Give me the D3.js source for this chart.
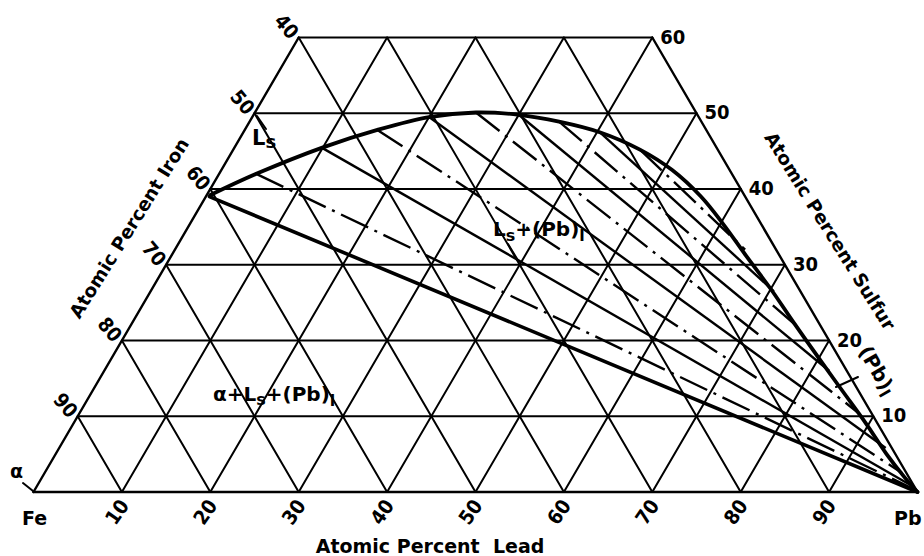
<!DOCTYPE html>
<html>
<head>
<meta charset="utf-8">
<script src="https://cdn.jsdelivr.net/npm/d3@7"></script>
<style>
  html, body { margin: 0; padding: 0; background: #fff; }
  svg text { font-family: "DejaVu Sans", sans-serif; font-weight: bold; fill: #000; }
  svg text.num { font-family: "DejaVu Sans Condensed", "DejaVu Sans", sans-serif; }
</style>
</head>
<body>
<svg id="chart" width="924" height="556"></svg>
<script>
// Fe–Pb–S isothermal section, composition in atomic percent [Pb, S]
const gridLevels = [0, 10, 20, 30, 40, 50, 60];
const leadTicks = ["10", "20", "30", "40", "50", "60", "70", "80", "90"];
const ironTicks = ["40", "50", "60", "70", "80", "90"];
const sulfurTicks = ["60", "50", "40", "30", "20", "10"];

// miscibility gap boundary, from the matte (Ls) side round to the lead-rich side
const gapBoundary = [
  [0.4, 39.2], [4.2, 42.0], [10, 45.5], [15, 47.8], [20, 49.5], [25, 50.1],
  [30, 49.8], [35, 48.9], [40.3, 47.5], [46, 45.2], [51, 42.5], [56, 39.0],
  [60.3, 35.4], [65, 31.2], [70, 26.8], [75, 22.2], [80.3, 17.4],
  [85, 13.2], [89.7, 9.0], [94, 5.0], [97.5, 2.0], [100, 0]
];

// three-phase triangle edge alpha + Ls + (Pb)l
const threePhaseEdge = [[0.4, 39.0], [100, 0]];

// tie lines Ls -> (Pb)l ; style: 1 = solid, 0 = dash-dot
const tieFrom  = [[4.2, 42.0], [10, 45.4], [15, 47.8], [20, 49.5], [25, 50.1], [30, 49.8], [35, 48.9], [40.3, 47.5], [46, 45.2]];
const tieTo    = [[99.6, 0.3], [99.0, 0.8], [97.0, 2.5], [93.5, 5.8], [88.0, 10.5], [82.0, 16.0], [76.0, 21.5], [70.5, 26.5], [64.5, 32.0]];
const tieSolid = [0, 1, 0, 1, 0, 1, 0, 1, 0];

const svg = d3.select("#chart");

// ternary -> screen: horizontal position follows Pb + S/2, vertical follows S
const xs = d3.scaleLinear().domain([0, 100]).range([33.5, 917.5]);
const ys = d3.scaleLinear().domain([0, 60]).range([492, 37.5]);
const P = (pb, s) => [xs(pb + s / 2), ys(s)];
const line = d3.line();

const g = svg.append("g").attr("fill", "none").attr("stroke", "#000").attr("stroke-linecap", "round");

// horizontal grid (constant S), including base and top edge
gridLevels.forEach(s => {
  g.append("path").attr("d", line([P(0, s), P(100 - s, s)])).attr("stroke-width", s === 0 ? 2.6 : 2);
});
// constant-Pb lines (parallel to the Fe–S edge)
for (let pb = 0; pb < 100; pb += 10) {
  const sTop = Math.min(60, 100 - pb);
  g.append("path").attr("d", line([P(pb, 0), P(pb, sTop)])).attr("stroke-width", pb === 0 ? 2.4 : 2);
}
// constant-Fe lines (parallel to the Pb–S edge): Pb + S = 100 - Fe
for (let fe = 0; fe < 100; fe += 10) {
  const sum = 100 - fe;
  const sTop = Math.min(60, sum);
  g.append("path").attr("d", line([P(sum, 0), P(sum - sTop, sTop)])).attr("stroke-width", fe === 0 ? 2.4 : 2);
}

// tie lines
tieFrom.forEach((f, i) => {
  const t = tieTo[i];
  g.append("path")
    .attr("d", line([P(f[0], f[1]), P(t[0], t[1])]))
    .attr("stroke-width", 2.4)
    .attr("stroke-linecap", "butt")
    .attr("stroke-dasharray", tieSolid[i] ? null : "30,7,3,7");
});

// three-phase edge
g.append("path").attr("d", line(threePhaseEdge.map(d => P(d[0], d[1])))).attr("stroke-width", 3.6);

// miscibility gap boundary
g.append("path")
  .attr("d", d3.line().curve(d3.curveCatmullRom.alpha(0.5))(gapBoundary.map(d => P(d[0], d[1]))))
  .attr("stroke-width", 3.8);

// axis numbers
const lab = svg.append("g").attr("font-size", 20);
leadTicks.forEach((t, i) => {
  const [x, y] = P((i + 1) * 10, 0);
  lab.append("text").attr("class", "num").attr("transform", `translate(${x - 5},${y + 20}) rotate(-55)`)
    .attr("text-anchor", "middle").attr("dominant-baseline", "central").text(t);
});
ironTicks.forEach((t, i) => {
  const s = 60 - i * 10;
  const [x, y] = P(0, s);
  lab.append("text").attr("class", "num").attr("transform", `translate(${x - 12},${y - 11}) rotate(50)`)
    .attr("text-anchor", "middle").attr("dominant-baseline", "central").text(t);
});
sulfurTicks.forEach((t, i) => {
  const s = 60 - i * 10;
  const [x, y] = P(100 - s, s);
  lab.append("text").attr("class", "num").attr("x", x + 8).attr("y", y - 1)
    .attr("dominant-baseline", "central").text(t);
});

// corner names and axis titles
lab.append("text").attr("x", 22).attr("y", 525).attr("font-size", 19).text("Fe");
lab.append("text").attr("x", 894).attr("y", 525).attr("font-size", 19).text("Pb");
lab.append("text").attr("x", 430).attr("y", 553).attr("text-anchor", "middle").attr("font-size", 19)
  .attr("xml:space", "preserve").text("Atomic Percent  Lead");
lab.append("text").attr("transform", "translate(129,228) rotate(-58)").attr("text-anchor", "middle")
  .attr("dominant-baseline", "central").attr("font-size", 18.5).text("Atomic Percent Iron");
lab.append("text").attr("transform", "translate(830,231) rotate(58)").attr("text-anchor", "middle")
  .attr("dominant-baseline", "central").attr("font-size", 18.5).text("Atomic Percent Sulfur");

// phase labels with subscripts: [text, baseline shift, size]
const sub = (sel, parts) => {
  parts.forEach(p => {
    const ts = sel.append("tspan").text(p[0]);
    if (p[1]) ts.attr("dy", p[1]);
    if (p[2]) ts.attr("font-size", p[2]);
  });
};
lab.append("text").attr("x", 10).attr("y", 478).attr("font-size", 19).text("α");
g.append("path").attr("d", line([[23, 483], [33, 491]])).attr("stroke-width", 2);

const ls = lab.append("text").attr("x", 252).attr("y", 145).attr("font-size", 21);
sub(ls, [["L"], ["s", 3, 18]]);
g.append("path").attr("d", line([[257, 116], [266, 129]])).attr("stroke-width", 2);

const two = lab.append("text").attr("x", 493).attr("y", 236).attr("font-size", 20);
sub(two, [["L"], ["s", 5, 16], ["+(Pb)", -5], ["l", 5, 16]]);
g.append("path").attr("d", line([[508, 244], [519, 262]])).attr("stroke-width", 2);

const three = lab.append("text").attr("x", 213).attr("y", 401).attr("font-size", 20);
sub(three, [["α+L"], ["s", 4, 16], ["+(Pb)", -4], ["l", 5, 16]]);

const pbl = lab.append("text").attr("transform", "translate(858,351) rotate(60)").attr("font-size", 20);
sub(pbl, [["(Pb)"], ["l", 4, 16]]);
g.append("path").attr("d", line([[836, 387], [858, 377]])).attr("stroke-width", 2);
</script>
</body>
</html>
